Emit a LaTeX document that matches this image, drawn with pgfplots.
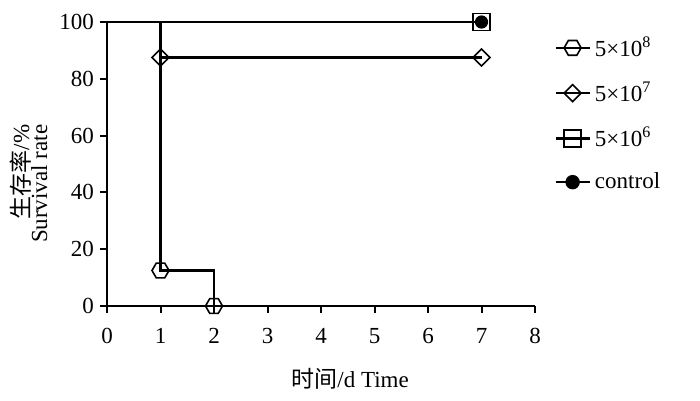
\documentclass[border=0pt]{standalone}
\usepackage{fontspec}
\setmainfont{Liberation Serif}
\newfontfamily\cjk{Noto Sans CJK SC}
\usepackage{pgfplots}
\pgfplotsset{compat=1.18}

% flat-topped hexagon mark
\pgfdeclareplotmark{hexagon}{%
  \pgfpathmoveto{\pgfqpointpolar{0}{\pgfplotmarksize}}%
  \pgfpathlineto{\pgfqpointpolar{60}{\pgfplotmarksize}}%
  \pgfpathlineto{\pgfqpointpolar{120}{\pgfplotmarksize}}%
  \pgfpathlineto{\pgfqpointpolar{180}{\pgfplotmarksize}}%
  \pgfpathlineto{\pgfqpointpolar{240}{\pgfplotmarksize}}%
  \pgfpathlineto{\pgfqpointpolar{300}{\pgfplotmarksize}}%
  \pgfpathclose\pgfusepathqstroke}

\begin{document}
\begin{tikzpicture}
\begin{axis}[
  name=ax,
  scale only axis, width=214pt, height=142pt,
  font=\fontsize{11.5}{13.5}\selectfont,
  /pgf/number format/assume math mode=true,
  xmin=0, xmax=8, ymin=0, ymax=100,
  xtick={0,1,...,8}, ytick={0,20,...,100},
  axis x line=bottom, axis y line=left,
  axis line style={-, line width=1.1pt, black},
  tick style={line width=1pt, black},
  major tick length=3.5pt, tick align=outside,
  xticklabel style={yshift=-4pt},
  every y tick label/.append style={xshift=0.5pt},
  clip=false,
  xlabel={{\cjk 时间}/d Time},
  ylabel={{\cjk 生存率}/\%\\Survival rate},
  xlabel style={at={(ticklabel cs:0.568)}, anchor=north, yshift=-5.5pt},
  ylabel style={align=right, at={(ticklabel cs:0.43,2.5pt)},
                inner sep=0pt, execute at begin node={\baselineskip=9pt}},
  legend style={at={(1.03,0.978)}, anchor=north west, draw=none,
                font=\fontsize{11.5}{13.5}\selectfont, row sep=7.5pt},
  legend image post style={mark indices={2}},
  legend cell align=left,
]
\addplot[black, line width=1.3pt, mark=hexagon, mark size=4.25pt,
  mark indices={2,4}, mark options={solid, line width=0.8pt}]
  coordinates {(1,100)(1,12.5)(2,12.5)(2,0)};
\addlegendentry{5×10\textsuperscript{8}}
\addplot[black, line width=1.3pt, mark=square, mark size=3pt,
  mark indices={2,3}, mark options={solid, line width=0.8pt, rotate=45}]
  coordinates {(1,100)(1,87.5)(7,87.5)};
\addlegendentry{5×10\textsuperscript{7}}
\addplot[black, line width=0.6pt, mark=square, mark size=4.25pt,
  mark indices={2}, mark options={solid, line width=0.8pt},
  legend image post style={line width=1.2pt}]
  coordinates {(0,100)(7,100)};
\addlegendentry{5×10\textsuperscript{6}}
\addplot[black, line width=0.6pt, mark=*, mark size=3pt,
  mark indices={2}, mark options={solid, fill=black},
  legend image post style={line width=1.2pt}]
  coordinates {(0,100)(7,100)};
\addlegendentry{control}
\end{axis}
\pgfresetboundingbox
\useasboundingbox ([xshift=-53.5pt,yshift=-47pt]ax.south west)
  rectangle ([xshift=82.5pt,yshift=11pt]ax.north east);
\end{tikzpicture}
\end{document}
